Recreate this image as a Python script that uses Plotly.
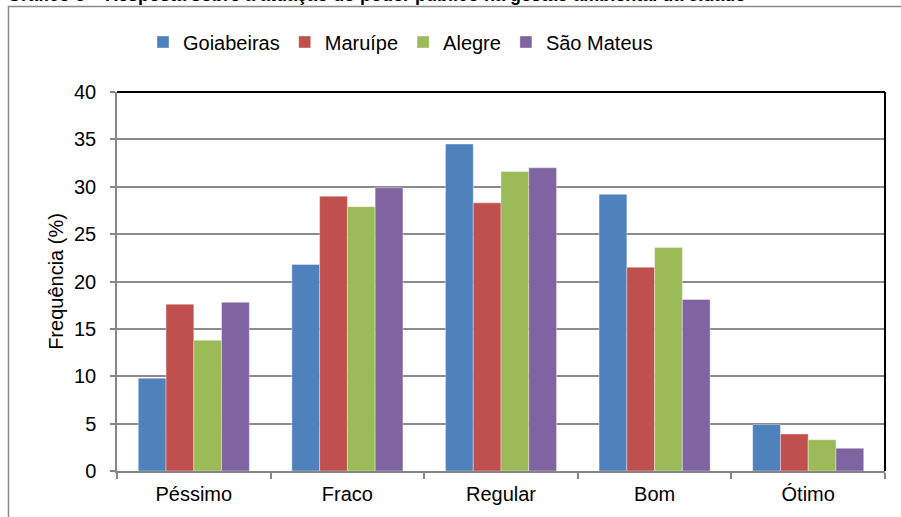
import plotly.graph_objects as go

categories = ["Péssimo", "Fraco", "Regular", "Bom", "Ótimo"]
series_names = ["Goiabeiras", "Maruípe", "Alegre", "São Mateus"]
goiabeiras = [9.8, 21.8, 34.5, 29.2, 4.9]
maruipe = [17.6, 29.0, 28.3, 21.5, 3.9]
alegre = [13.8, 27.9, 31.6, 23.6, 3.3]
sao_mateus = [17.8, 29.9, 32.0, 18.1, 2.4]
colors = ["#4F81BD", "#C0504D", "#9BBB59", "#8064A2"]
y_ticks = [0, 5, 10, 15, 20, 25, 30, 35, 40]

FONT = "Liberation Sans, Arial, sans-serif"

fig = go.Figure()
for name, vals, col in zip(series_names, [goiabeiras, maruipe, alegre, sao_mateus], colors):
    fig.add_trace(go.Bar(
        name=name, x=categories, y=vals,
        marker=dict(color=col, line=dict(color="rgba(255,255,255,0.6)", width=0.6)),
    ))

W, H = 901, 517
L, R, T, B = 117, 16, 92, 46
pw, ph = W - L - R, H - T - B

def px(x):
    return (x - L) / pw

def py(y):
    return (H - B - y) / ph

fig.update_layout(
    width=W, height=H,
    margin=dict(l=L, r=R, t=T, b=B),
    paper_bgcolor="white", plot_bgcolor="white",
    barmode="group", bargap=0.277, bargroupgap=0,
    font=dict(family=FONT, size=20, color="black"),
    showlegend=True,
    legend=dict(orientation="h", x=px(143), xanchor="left", y=py(42), yanchor="middle",
                font=dict(size=20), itemwidth=30, traceorder="normal",
                bgcolor="rgba(0,0,0,0)"),
    xaxis=dict(showline=True, linecolor="#868686", linewidth=1.5,
               ticks="outside", ticklen=6, tickcolor="#868686", tickwidth=1.5,
               tickson="boundaries", showgrid=False, ticklabelstandoff=4,
               tickfont=dict(size=20)),
    yaxis=dict(range=[0, 40], tickvals=y_ticks, showline=True, linecolor="#868686",
               linewidth=1.5, ticks="outside", ticklen=5, tickcolor="#868686",
               tickwidth=1.5, showgrid=True, gridcolor="#8c8c8c", gridwidth=1.5,
               zeroline=False, ticklabelstandoff=10, tickfont=dict(size=20),
               title=dict(text="Frequência (%)", font=dict(size=20), standoff=5)),
    shapes=[
        dict(type="line", xref="paper", yref="paper", x0=0, x1=1, y0=1, y1=1,
             line=dict(color="black", width=2)),
        dict(type="line", xref="paper", yref="paper", x0=1, x1=1, y0=0, y1=1,
             line=dict(color="black", width=2)),
        dict(type="rect", xref="paper", yref="paper", x0=px(8.5), x1=px(910),
             y0=py(530), y1=py(6.5), line=dict(color="#8a8a8a", width=1.5),
             layer="below"),
    ],
    annotations=[
        dict(text="<b>Gráfico 6 – Resposta sobre a atuação do poder público na gestão ambiental da cidade</b>",
             xref="paper", yref="paper", x=px(5), y=py(7), xanchor="left", yanchor="bottom",
             showarrow=False, font=dict(size=18, family=FONT, color="black")),
    ],
)

fig.write_html("out.html", post_script="document.body.style.margin='0';",
               config={"displayModeBar": False})
